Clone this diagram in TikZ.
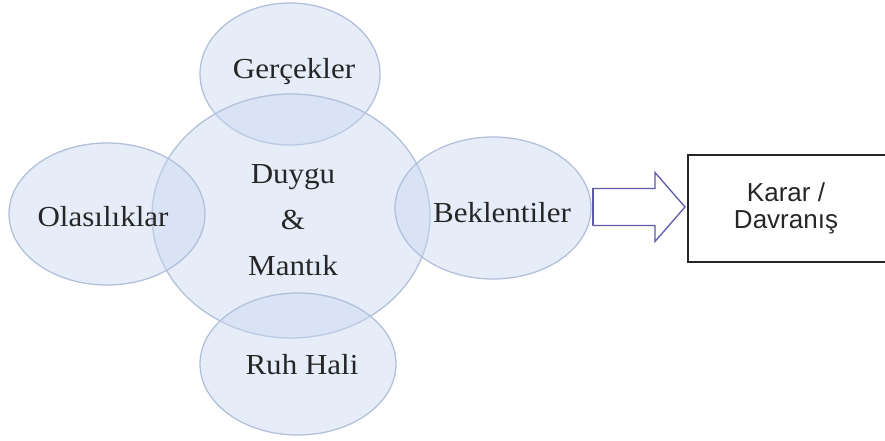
\documentclass[tikz,border=0pt]{standalone}
\usepackage{fontspec}
\setmainfont{Liberation Serif}[FakeStretch=1.07]
\newfontfamily\boxfont{Liberation Sans}
\usetikzlibrary{shapes.geometric}
\definecolor{bubfill}{RGB}{200,215,240}
\definecolor{bubline}{RGB}{178,192,218}
\definecolor{arrline}{RGB}{95,90,170}
\tikzset{
  bubble/.style={ellipse, draw=bubline, line width=1.3pt, fill=bubfill, fill opacity=0.45, inner sep=0pt},
  lab/.style={font=\fontsize{29}{46}\selectfont, text=black!85},
}
\begin{document}
\begin{tikzpicture}[x=1pt,y=1pt]
\useasboundingbox (0,0) rectangle (885,441);
\node[bubble, minimum width=180, minimum height=142] (ger) at (290,367) {};
\node[bubble, minimum width=278, minimum height=244] (mid) at (291,225) {};
\node[bubble, minimum width=196, minimum height=142] (ola) at (107,227) {};
\node[bubble, minimum width=196, minimum height=142] (ruh) at (298,77) {};
\node[bubble, minimum width=196, minimum height=142] (bek) at (493,233) {};
\node[lab] (gert) at (294,369) {Gerçekler};
\node[lab, align=center] (midt) at (293,221) {Duygu\\\&\\Mantık};
\node[lab] (olat) at (103,224) {Olasılıklar};
\node[lab] (ruht) at (302,76) {Ruh Hali};
\node[lab] (bekt) at (502,228) {Beklentiler};
\coordinate (as) at (593,234);
\draw[draw=arrline, line width=1.3pt, fill=white, line join=miter]
  ([yshift=18.5pt]as) -- ++(62,0) -- ++(0,16) -- ++(30,-34.5) -- ++(-30,-34.5) -- ++(0,16) -- ++(-62,0) -- cycle;
\draw[draw=arrline, line width=2pt] ([yshift=18.5pt]as) -- ([yshift=-18.5pt]as);
\draw[line width=1.4pt, black!85] (890,286) -- (688,286) -- (688,179) -- (890,179);
\node[font=\boxfont\fontsize{26}{27}\selectfont, align=center, text=black!85] (kar) at (786,233) {Karar /\\Davranış};
\end{tikzpicture}
\end{document}
